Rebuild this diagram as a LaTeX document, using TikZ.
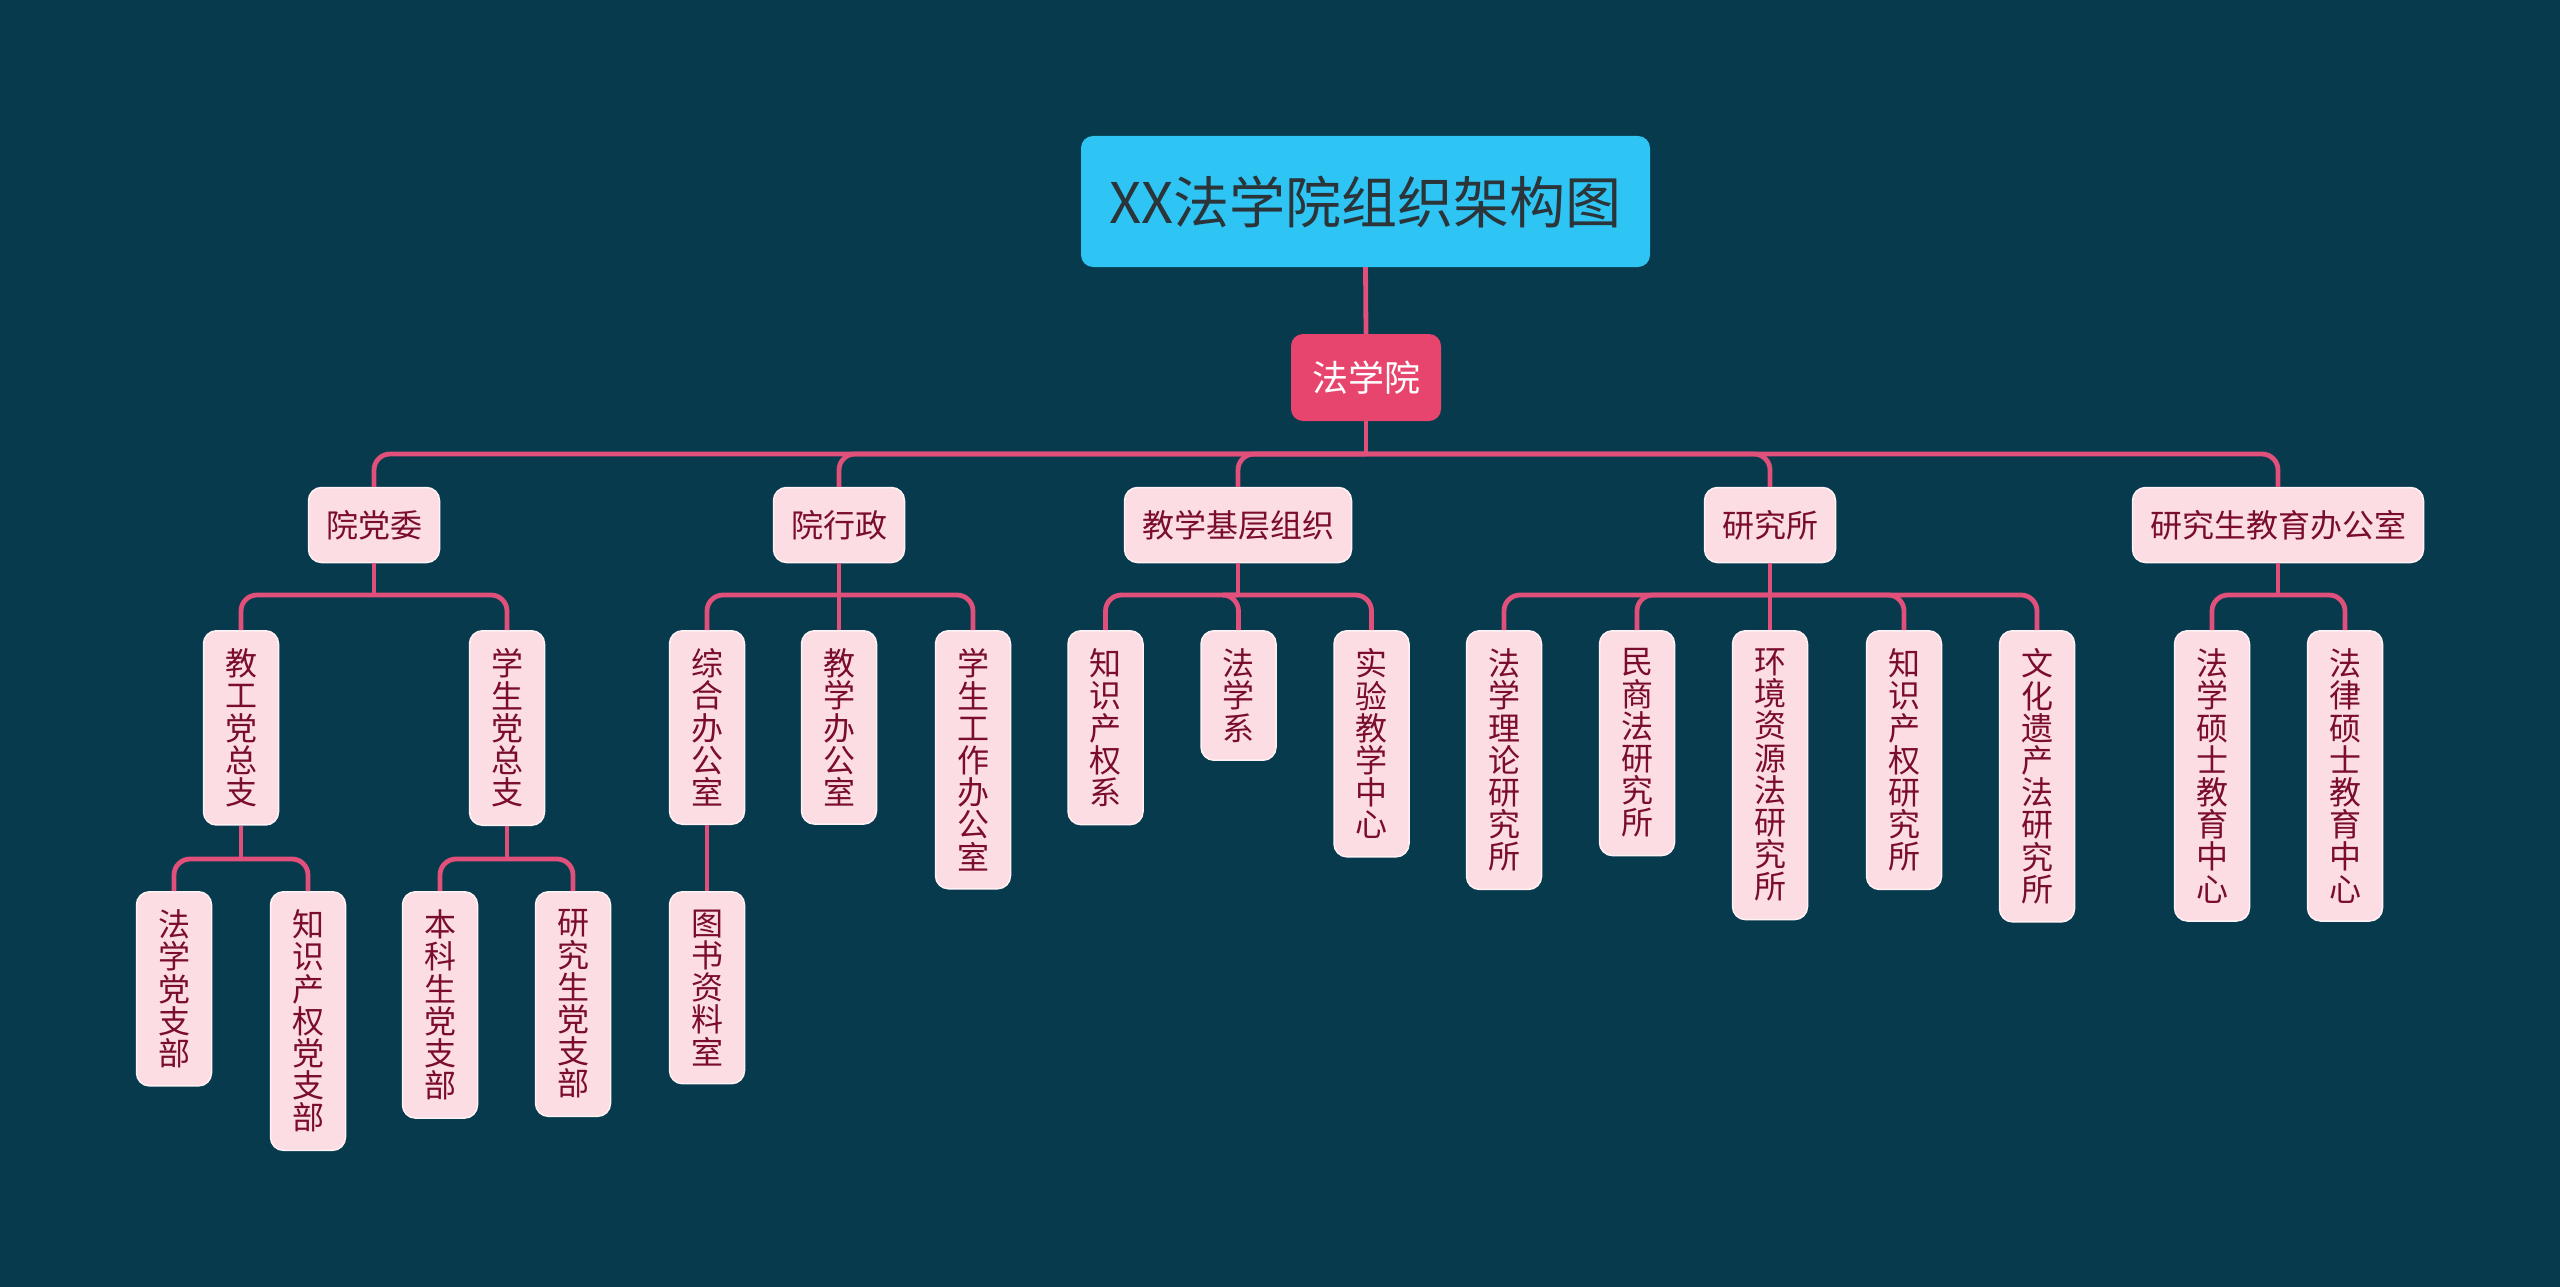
\documentclass[tikz,border=0pt]{standalone}
\usepackage{fontspec}
\setmainfont{Noto Sans CJK SC}
\definecolor{bgc}{HTML}{073A4D}
\definecolor{linec}{HTML}{E0507A}
\definecolor{titlec}{HTML}{2EC4F4}
\definecolor{titletext}{HTML}{2B3438}
\definecolor{rootc}{HTML}{E8456E}
\definecolor{leaffill}{HTML}{FCDDE3}
\definecolor{leafedge}{HTML}{FFF2F5}
\definecolor{leaftext}{HTML}{7A0C2C}
\tikzset{
  conn/.style={draw=linec, line width=4.8pt},
  rconn/.style={draw=linec, line width=4.8pt, rounded corners=16pt},
  titlebox/.style={fill=titlec, draw=none, rounded corners=12pt, minimum width=569pt, minimum height=131pt, inner sep=0pt, text=titletext, font=\fontsize{56}{60}\selectfont},
  rootbox/.style={fill=rootc, draw=none, rounded corners=12pt, minimum width=150pt, minimum height=87pt, inner sep=0pt, text=white, font=\fontsize{36}{40}\selectfont},
  hbox/.style={fill=leaffill, draw=leafedge, line width=1.5pt, rounded corners=13pt, minimum height=75pt, inner xsep=17.5pt, inner ysep=0pt, text=leaftext, font=\fontsize{32}{36}\selectfont},
  vbox/.style={fill=leaffill, draw=leafedge, line width=1.5pt, rounded corners=13pt, minimum width=75pt, inner xsep=0pt, inner ysep=18pt, align=center, text=leaftext, font=\fontsize{32}{32.2}\selectfont, anchor=north}
}
\begin{document}
\begin{tikzpicture}[x=1pt,y=-1pt]
\fill[bgc] (0,0) rectangle (2560,1287);
\useasboundingbox (0,0) rectangle (2560,1287);

% title and root
\node[titlebox] (title) at (1365.5,201.5) {XX法学院组织架构图};
\node[rootbox] (root) at (1366,377.5) {法学院};

% level 1
\node[hbox] (d1) at (374,525) {院党委};
\node[hbox] (d2) at (839,525) {院行政};
\node[hbox] (d3) at (1238,525) {教学基层组织};
\node[hbox] (d4) at (1770,525) {研究所};
\node[hbox] (d5) at (2278,525) {研究生教育办公室};

% level 2
\node[vbox] (a1) at (241,630) {教\\工\\党\\总\\支};
\node[vbox] (a2) at (507,630) {学\\生\\党\\总\\支};
\node[vbox] (b1) at (707,630) {综\\合\\办\\公\\室};
\node[vbox] (b2) at (839,630) {教\\学\\办\\公\\室};
\node[vbox] (b3) at (973,630) {学\\生\\工\\作\\办\\公\\室};
\node[vbox] (c1) at (1105.5,630) {知\\识\\产\\权\\系};
\node[vbox] (c2) at (1238.5,630) {法\\学\\系};
\node[vbox] (c3) at (1371.5,630) {实\\验\\教\\学\\中\\心};
\node[vbox] (e1) at (1504,630) {法\\学\\理\\论\\研\\究\\所};
\node[vbox] (e2) at (1637,630) {民\\商\\法\\研\\究\\所};
\node[vbox] (e3) at (1770,630) {环\\境\\资\\源\\法\\研\\究\\所};
\node[vbox] (e4) at (1904,630) {知\\识\\产\\权\\研\\究\\所};
\node[vbox] (e5) at (2037,630) {文\\化\\遗\\产\\法\\研\\究\\所};
\node[vbox] (f1) at (2212,630) {法\\学\\硕\\士\\教\\育\\中\\心};
\node[vbox] (f2) at (2345,630) {法\\律\\硕\\士\\教\\育\\中\\心};

% level 3
\node[vbox] (g1) at (174,891) {法\\学\\党\\支\\部};
\node[vbox] (g2) at (308,891) {知\\识\\产\\权\\党\\支\\部};
\node[vbox] (g3) at (440,891) {本\\科\\生\\党\\支\\部};
\node[vbox] (g4) at (573,891) {研\\究\\生\\党\\支\\部};
\node[vbox] (g5) at (707,891) {图\\书\\资\\料\\室};

% junctions
\coordinate (j0) at (1366,454);
\coordinate (j1) at (374,595);
\coordinate (j2) at (839,595);
\coordinate (j3) at (1238,595);
\coordinate (j4) at (1770,595);
\coordinate (j5) at (2278,595);
\coordinate (ja1) at (241,859);
\coordinate (ja2) at (507,859);
\coordinate (jb1) at (707,859);

% connectors
\draw[conn] (title.south) -- (root.north);
\draw[conn] (root.south) -- (j0);
\foreach \n in {d1,d2,d3,d4,d5} \draw[rconn] (j0) -| (\n.north);

\draw[conn] (d1.south) -- (j1);
\foreach \n in {a1,a2} \draw[rconn] (j1) -| (\n.north);
\draw[conn] (d2.south) -- (j2);
\foreach \n in {b1,b2,b3} \draw[rconn] (j2) -| (\n.north);
\draw[conn] (d3.south) -- (j3);
\foreach \n in {c1,c2,c3} \draw[rconn] (j3) -| (\n.north);
\draw[conn] (d4.south) -- (j4);
\foreach \n in {e1,e2,e3,e4,e5} \draw[rconn] (j4) -| (\n.north);
\draw[conn] (d5.south) -- (j5);
\foreach \n in {f1,f2} \draw[rconn] (j5) -| (\n.north);

\draw[conn] (a1.south) -- (ja1);
\foreach \n in {g1,g2} \draw[rconn] (ja1) -| (\n.north);
\draw[conn] (a2.south) -- (ja2);
\foreach \n in {g3,g4} \draw[rconn] (ja2) -| (\n.north);
\draw[conn] (b1.south) -- (g5.north);
\end{tikzpicture}
\end{document}
